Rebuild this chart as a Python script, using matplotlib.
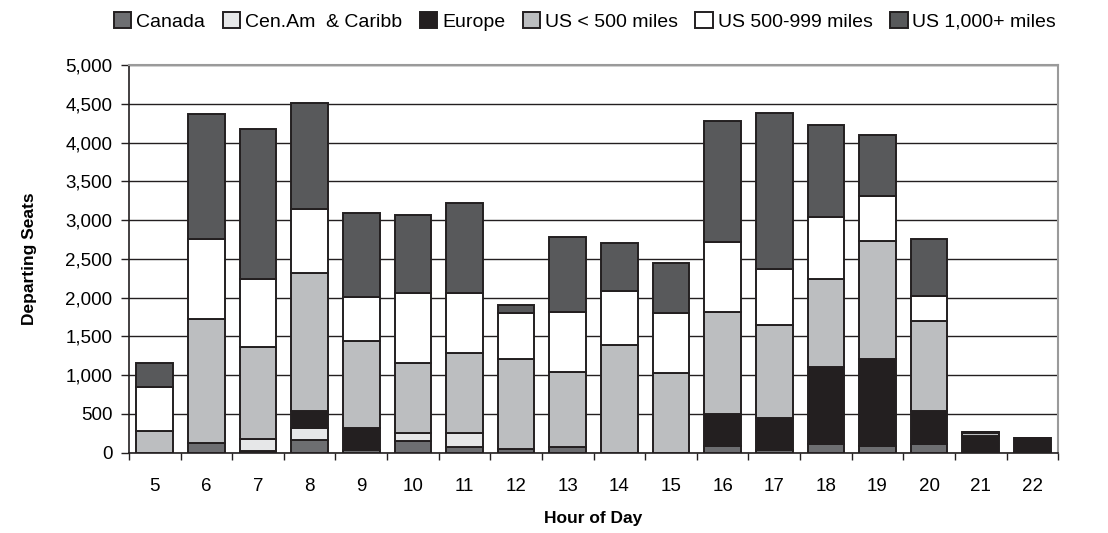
import numpy as np
import matplotlib.pyplot as plt
from matplotlib.ticker import FuncFormatter, MultipleLocator

plt.rcParams['font.family'] = ['Liberation Sans', 'DejaVu Sans']

hours = [5, 6, 7, 8, 9, 10, 11, 12, 13, 14, 15, 16, 17, 18, 19, 20, 21, 22]
canada = [0, 128, 25, 163, 30, 150, 68, 46, 76, 0, 0, 89, 33, 111, 85, 111, 0, 0]
cenam = [0, 0, 150, 150, 0, 107, 189, 0, 0, 0, 0, 0, 0, 0, 0, 0, 0, 0]
europe = [0, 0, 0, 228, 283, 0, 0, 0, 0, 0, 0, 405, 410, 997, 1122, 430, 215, 185]
us_short = [280, 1600, 1190, 1780, 1127, 895, 1024, 1158, 968, 1384, 1031, 1324, 1204, 1128, 1523, 1157, 35, 0]
us_mid = [570, 1025, 870, 817, 563, 903, 774, 593, 774, 701, 766, 903, 719, 807, 584, 326, 12, 0]
us_long = [310, 1612, 1940, 1377, 1092, 1010, 1161, 107, 959, 615, 645, 1556, 2020, 1183, 783, 731, 0, 0]

series = [
    ('Canada', canada, '#6d6e71'),
    ('Cen.Am  & Caribb', cenam, '#e6e7e8'),
    ('Europe', europe, '#231f20'),
    ('US < 500 miles', us_short, '#bcbec0'),
    ('US 500-999 miles', us_mid, '#ffffff'),
    ('US 1,000+ miles', us_long, '#58595b'),
]

fig = plt.figure(figsize=(11.08, 5.33), dpi=100)
ax = fig.add_axes([0.1164, 0.151, 0.8386, 0.727])

x = np.arange(len(hours))
bottom = np.zeros(len(hours))
for name, vals, col in series:
    vals = np.array(vals, dtype=float)
    ax.bar(x, vals, bottom=bottom, width=0.71, color=col, edgecolor='#231f20',
           linewidth=1.4, label=name, zorder=3)
    bottom += vals

ax.set_xlim(-0.5, len(hours) - 0.5)
ax.set_ylim(0, 5000)
ax.yaxis.set_major_locator(MultipleLocator(500))
ax.yaxis.set_major_formatter(FuncFormatter(lambda v, p: f'{int(v):,}'))
ax.grid(axis='y', color='#231f20', linewidth=1.0, zorder=0)

ax.set_xticks(x)
ax.set_xticklabels([str(h) for h in hours])
ax.set_xticks(np.arange(-0.5, len(hours)), minor=True)
ax.tick_params(axis='x', which='major', length=0, pad=18, labelsize=13.5)
ax.tick_params(axis='x', which='minor', length=5, width=1, color='#231f20')
ax.tick_params(axis='y', length=6, width=1, color='#231f20', labelsize=13.5, pad=6)

for s in ['left', 'bottom']:
    ax.spines[s].set_color('#231f20')
    ax.spines[s].set_linewidth(1.2)
for s in ['top', 'right']:
    ax.spines[s].set_color('#9a9a9a')
    ax.spines[s].set_linewidth(1.5)

ax.set_xlabel('Hour of Day', fontsize=12.5, fontweight='bold', labelpad=12)
ax.set_ylabel('Departing Seats', fontsize=12.5, fontweight='bold', labelpad=20)

fig.legend(loc='upper center', bbox_to_anchor=(0.528, 1.01), ncol=6, frameon=False,
           fontsize=14, handlelength=0.9, handleheight=0.9, handletextpad=0.25,
           columnspacing=0.9)

fig.savefig('out.png', dpi=100)
